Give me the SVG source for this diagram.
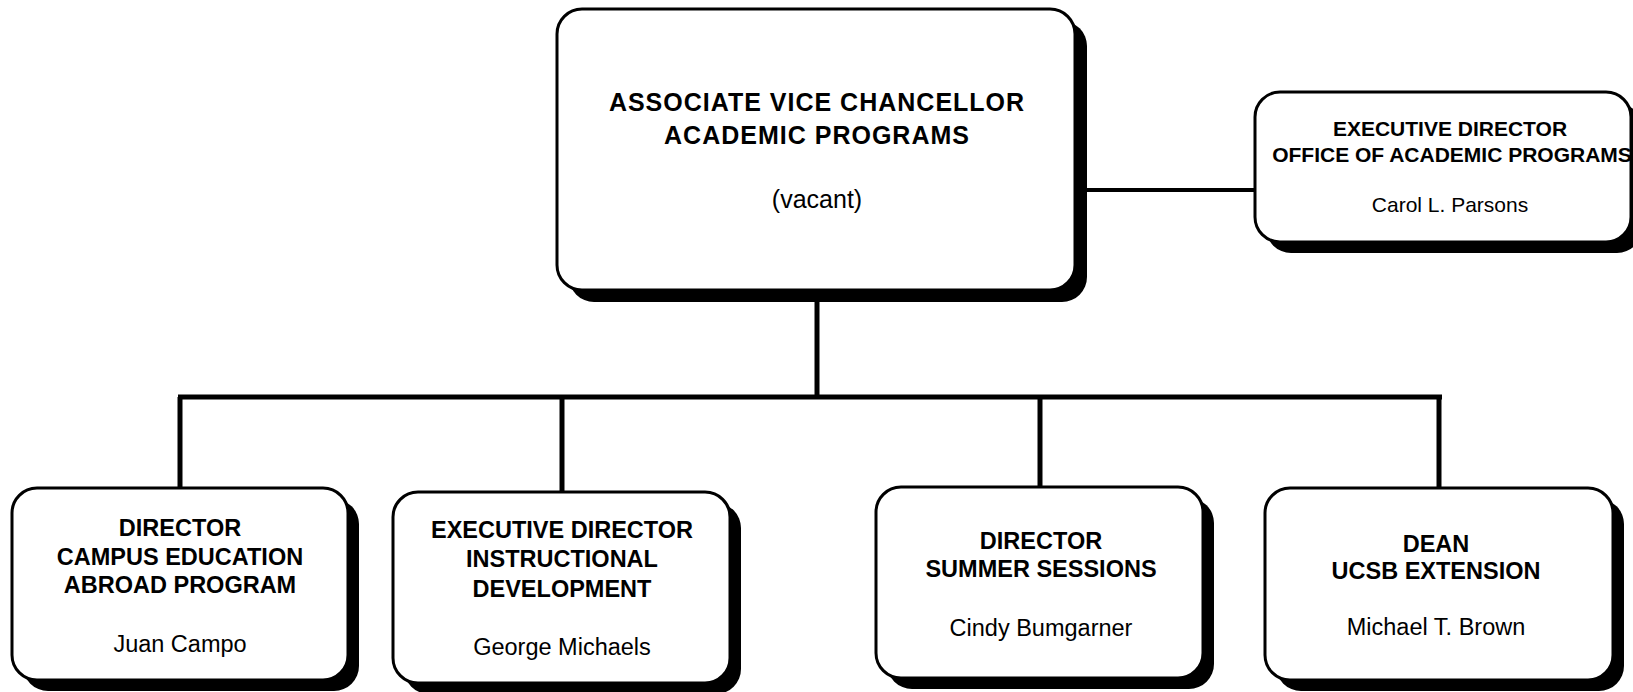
<svg xmlns="http://www.w3.org/2000/svg" width="1633" height="692" viewBox="0 0 1633 692">
<style>
.box{fill:#fff;stroke:#000;stroke-width:3}
.sh{fill:#000}
.t{font-family:"Liberation Sans",Arial,sans-serif;font-weight:bold;text-anchor:middle;fill:#000}
.n{font-family:"Liberation Sans",Arial,sans-serif;text-anchor:middle;fill:#000}
.c{stroke:#000;stroke-width:5;fill:none}
</style>
<rect width="1633" height="692" fill="#fff"/>
<g id="connectors">
<line class="c" x1="817" y1="290" x2="817" y2="397"/>
<line class="c" x1="178" y1="397" x2="1442" y2="397"/>
<line class="c" x1="180" y1="397" x2="180" y2="488"/>
<line class="c" x1="562" y1="397" x2="562" y2="492"/>
<line class="c" x1="1040" y1="397" x2="1040" y2="487"/>
<line class="c" x1="1439" y1="397" x2="1439" y2="488"/>
<line class="c" style="stroke-width:4" x1="1075" y1="190" x2="1255" y2="190"/>
</g>
<g id="avc">
<rect class="sh" x="569" y="21" width="518" height="281" rx="25"/>
<rect class="box" x="557" y="9" width="518" height="281" rx="25"/>
<text class="t" x="817" y="111" font-size="25" letter-spacing="1">ASSOCIATE VICE CHANCELLOR</text>
<text class="t" x="817" y="144" font-size="25" letter-spacing="1">ACADEMIC PROGRAMS</text>
<text class="n" x="817" y="208" font-size="25">(vacant)</text>
</g>
<g id="oap">
<rect class="sh" x="1266" y="103" width="376" height="150" rx="25"/>
<rect class="box" x="1255" y="92" width="376" height="150" rx="25"/>
<text class="t" x="1450" y="136" font-size="21">EXECUTIVE DIRECTOR</text>
<text class="t" x="1452" y="162" font-size="21">OFFICE OF ACADEMIC PROGRAMS</text>
<text class="n" x="1450" y="212" font-size="21">Carol L. Parsons</text>
</g>
<g id="eap">
<rect class="sh" x="23" y="499" width="336" height="192" rx="25"/>
<rect class="box" x="12" y="488" width="336" height="192" rx="25"/>
<text class="t" x="180" y="536" font-size="23.5">DIRECTOR</text>
<text class="t" x="180" y="565" font-size="23.5">CAMPUS EDUCATION</text>
<text class="t" x="180" y="593" font-size="23.5">ABROAD PROGRAM</text>
<text class="n" x="180" y="652" font-size="23.5">Juan Campo</text>
</g>
<g id="instdev">
<rect class="sh" x="404" y="503" width="337" height="191" rx="25"/>
<rect class="box" x="393" y="492" width="337" height="191" rx="25"/>
<text class="t" x="562" y="538" font-size="23.5">EXECUTIVE DIRECTOR</text>
<text class="t" x="562" y="567" font-size="23.5">INSTRUCTIONAL</text>
<text class="t" x="562" y="597" font-size="23.5">DEVELOPMENT</text>
<text class="n" x="562" y="655" font-size="23.5">George Michaels</text>
</g>
<g id="summer">
<rect class="sh" x="887" y="498" width="327" height="191" rx="25"/>
<rect class="box" x="876" y="487" width="327" height="191" rx="25"/>
<text class="t" x="1041" y="549" font-size="23.5">DIRECTOR</text>
<text class="t" x="1041" y="577" font-size="23.5">SUMMER SESSIONS</text>
<text class="n" x="1041" y="636" font-size="23.5">Cindy Bumgarner</text>
</g>
<g id="extension">
<rect class="sh" x="1276" y="499" width="348" height="192" rx="25"/>
<rect class="box" x="1265" y="488" width="348" height="192" rx="25"/>
<text class="t" x="1436" y="552" font-size="23.5">DEAN</text>
<text class="t" x="1436" y="579" font-size="23.5">UCSB EXTENSION</text>
<text class="n" x="1436" y="635" font-size="23.5">Michael T. Brown</text>
</g>
</svg>
